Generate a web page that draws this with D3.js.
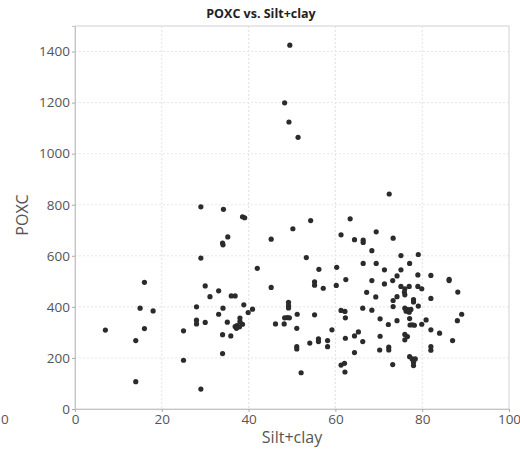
<!DOCTYPE html>
<html>
<head>
<meta charset="utf-8">
<script src="https://cdn.jsdelivr.net/npm/d3@7"></script>
<style>
  body { margin: 0; background: #fff; }
  text { font-family: "Open Sans", "DejaVu Sans", sans-serif; }
</style>
</head>
<body>
<div id="chart-area"></div>
<script>
// silt+clay (%) and POXC
var siltClay = [
  7.0, 14.0, 14.0, 15.0, 16.0, 16.0, 18.0, 25.0, 25.0,
  28.0, 28.0, 28.0, 29.0, 29.0, 29.0, 30.0, 30.0, 31.1, 33.1, 33.1, 34.1, 34.0, 34.1, 34.2, 35.2,
  34.0, 34.0, 35.1, 35.9, 36.0, 36.9, 38.6, 39.1, 38.0, 38.0, 36.9, 37.3, 37.9, 38.6, 37.2, 38.9, 39.9, 40.9, 42.0,
  45.2, 45.2, 46.2, 48.2, 48.3, 48.9, 49.4, 49.2, 49.2, 49.2, 49.5, 48.3, 49.3, 51.4, 50.2, 51.2, 51.1, 51.1, 51.1,
  52.1, 53.3, 54.3, 54.1, 55.2, 55.2, 55.2, 56.2, 56.1, 56.1, 57.2, 58.2, 58.2, 59.2,
  60.3, 60.2, 61.3, 61.3, 62.2, 62.3, 62.3, 61.3, 62.1, 62.2, 62.4, 63.4, 64.4, 64.4, 64.4, 65.3, 66.4, 66.4, 66.4,
  66.3, 66.3, 67.2, 68.4, 68.4, 68.4, 69.4, 69.4, 69.3,
  70.3, 70.3, 70.2, 71.3, 71.3, 72.2, 72.3, 72.3, 72.4, 73.3, 73.2, 73.3, 73.3, 73.2, 74.2, 74.2, 74.2, 75.1, 75.1,
  75.1, 76.0, 75.9, 76.0, 76.0, 76.7, 77.4, 76.3, 77.0, 77.1, 77.0, 77.1, 77.2, 77.7, 78.2, 76.0, 76.6, 76.0, 77.1,
  77.7, 78.4, 78.0, 78.0, 78.0, 78.0, 79.1, 79.0, 79.1, 79.0, 79.9, 79.9,
  80.9, 82.0, 82.0, 82.0, 82.0, 82.0, 84.0, 86.2, 86.2, 87.0, 88.2, 88.1, 89.1
];
var poxc = [
  309, 268, 107, 395, 496, 315, 384, 306, 191,
  400, 348, 333, 792, 591, 78, 482, 339, 440, 463, 371, 395, 650, 643, 782, 674,
  291, 217, 340, 286, 443, 443, 753, 749, 356, 342, 323, 327, 322, 332, 316, 408, 378, 391, 551,
  665, 476, 333, 333, 357, 358, 357, 418, 405, 396, 1425, 1199, 1124, 1064, 706, 371, 316, 244, 235,
  142, 593, 738, 258, 498, 485, 369, 547, 275, 264, 473, 268, 244, 310,
  555, 484, 682, 386, 382, 357, 277, 172, 179, 145, 507, 745, 663, 286, 221, 302, 661, 652, 570,
  395, 264, 457, 620, 503, 387, 694, 570, 439,
  353, 285, 231, 545, 490, 331, 242, 231, 842, 669, 503, 425, 401, 174, 521, 440, 346, 601, 545,
  480, 471, 458, 447, 395, 389, 390, 383, 379, 570, 480, 354, 329, 330, 328, 292, 284, 271, 205,
  196, 196, 183, 170, 428, 419, 605, 525, 403, 480, 471, 332,
  349, 523, 433, 310, 244, 230, 297, 508, 503, 268, 458, 346, 371
];
var xTicks = [0, 20, 40, 60, 80, 100];
var yTicks = [0, 200, 400, 600, 800, 1000, 1200, 1400];

var points = siltClay.map(function(d, i) { return { x: d, y: poxc[i] }; });

var svg = d3.select("#chart-area").append("svg")
  .attr("width", 520)
  .attr("height", 452);

var x = d3.scaleLinear().domain([0, 100]).range([75, 509]);
var y = d3.scaleLinear().domain([0, 1500]).range([409, 26]);

// grid
svg.append("g").selectAll("line").data(xTicks.slice(1, -1)).enter().append("line")
  .attr("x1", function(d) { return x(d); }).attr("x2", function(d) { return x(d); })
  .attr("y1", y(1500)).attr("y2", y(0))
  .attr("stroke", "#e0e0e0").attr("stroke-dasharray", "2,2");
svg.append("g").selectAll("line").data(yTicks.slice(1)).enter().append("line")
  .attr("x1", x(0)).attr("x2", x(100))
  .attr("y1", function(d) { return y(d); }).attr("y2", function(d) { return y(d); })
  .attr("stroke", "#e6e6e6").attr("stroke-dasharray", "2,2");

// frame
svg.append("rect")
  .attr("x", x(0)).attr("y", y(1500))
  .attr("width", x(100) - x(0)).attr("height", y(0) - y(1500))
  .attr("fill", "none").attr("stroke", "#d2d2d2");

// axes
var xAxis = svg.append("g").attr("transform", "translate(0," + y(0) + ")")
  .call(d3.axisBottom(x).tickValues(xTicks).tickSize(3).tickPadding(2));
var yAxis = svg.append("g").attr("transform", "translate(" + x(0) + ",0)")
  .call(d3.axisLeft(y).tickValues(yTicks).tickFormat(d3.format("d")).tickSize(3).tickPadding(2));
[xAxis, yAxis].forEach(function(a) {
  a.select(".domain").attr("stroke", "#c4c4c4");
  a.selectAll(".tick line").attr("stroke", "#aaa");
  a.selectAll(".tick text").attr("fill", "#555").style("font-size", "13.5px")
    .style("font-family", "'Open Sans', 'DejaVu Sans', sans-serif");
});

// dots
svg.append("g").selectAll("circle").data(points).enter().append("circle")
  .attr("cx", function(d) { return x(d.x); })
  .attr("cy", function(d) { return y(d.y); })
  .attr("r", 2.6)
  .attr("fill", "#2b2b2b");

// labels
svg.append("text").attr("x", 261).attr("y", 18).attr("text-anchor", "middle")
  .style("font-size", "12.5px").style("font-weight", "bold").attr("fill", "#222")
  .text("POXC vs. Silt+clay");
svg.append("text").attr("x", 292).attr("y", 443).attr("text-anchor", "middle")
  .style("font-size", "16px").attr("fill", "#555")
  .text("Silt+clay");
svg.append("text").attr("transform", "translate(28,215) rotate(-90)").attr("text-anchor", "middle")
  .style("font-size", "16px").attr("fill", "#555")
  .text("POXC");
// tick label of the neighbouring panel, at the left edge
svg.append("text").attr("x", 1).attr("y", 424).attr("text-anchor", "start")
  .style("font-size", "13.5px").attr("fill", "#555")
  .text("0");
</script>
</body>
</html>
